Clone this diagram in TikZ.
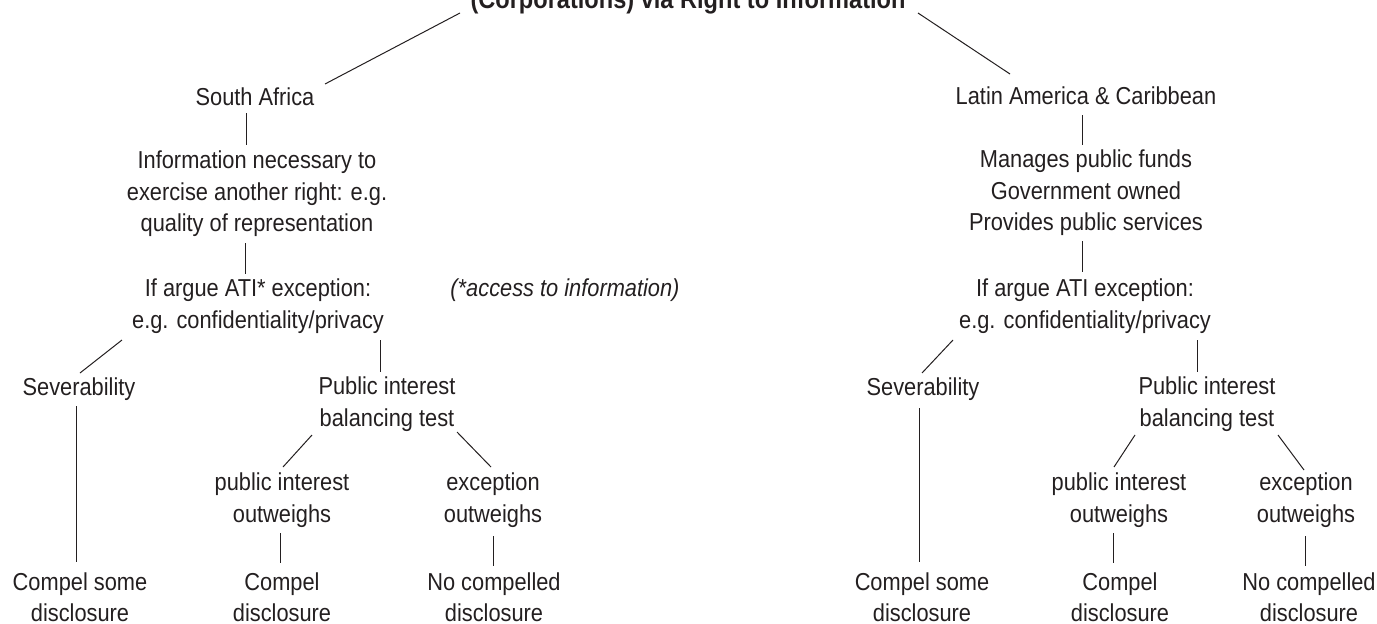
\documentclass[tikz,border=0pt]{standalone}
\usepackage{fontspec}
\setmainfont{Liberation Sans}[FakeStretch=0.89]
\usetikzlibrary{calc}
\definecolor{ink}{HTML}{231F20}
\begin{document}
\begin{tikzpicture}[x=1pt,y=-1pt,
  lbl/.style={inner sep=0pt, align=center, text=ink, font=\fontsize{24.5}{31.5}\selectfont},
  note/.style={lbl, font=\fontsize{24.5}{31.5}\selectfont\itshape},
  ttl/.style={inner sep=0pt, text=ink, font=\fontsize{26.5}{30}\selectfont\bfseries},
  conn/.style={draw=ink, line width=1pt}]
\useasboundingbox (0,0) rectangle (1377,624);
\clip (0,0) rectangle (1377,624);
% title (cut off at top)
\node[ttl, anchor=base] (title) at (688,8) {(Corporations) via Right to Information};
% left tree
\node[lbl] (sa) at (255,97) {South Africa};
\node[lbl] (info) at (257,194) {Information necessary to\\exercise another right: e.g.\\quality of representation};
\node[lbl] (ati) at (258,306) {If argue ATI* exception:\\e.g. confidentiality/privacy};
\node[note] (nt) at (565,290) {(*access to information)};
\node[lbl] (sev) at (79,389) {Severability};
\node[lbl] (pi) at (387,404) {Public interest\\balancing test};
\node[lbl] (pio) at (282,500) {public interest\\outweighs};
\node[lbl] (eo) at (493,500) {exception\\outweighs};
\node[lbl] (cs) at (80,597) {Compel some\\disclosure};
\node[lbl] (cd) at (282,597) {Compel\\disclosure};
\node[lbl] (nc) at (494,597) {No compelled\\disclosure};
% right tree
\node[lbl] (la) at (1086,96) {Latin America \& Caribbean};
\node[lbl] (mg) at (1086,193) {Manages public funds\\Government owned\\Provides public services};
\node[lbl] (ati2) at (1085,306) {If argue ATI exception:\\e.g. confidentiality/privacy};
\node[lbl] (sev2) at (923,389) {Severability};
\node[lbl] (pi2) at (1207,404) {Public interest\\balancing test};
\node[lbl] (pio2) at (1119,500) {public interest\\outweighs};
\node[lbl] (eo2) at (1306,500) {exception\\outweighs};
\node[lbl] (cs2) at (922,597) {Compel some\\disclosure};
\node[lbl] (cd2) at (1120,597) {Compel\\disclosure};
\node[lbl] (nc2) at (1309,597) {No compelled\\disclosure};
% connectors
\draw[conn] ([shift={(-228,5)}]title.base) -- ([shift={(70,-13)}]sa.center);
\draw[conn] ([shift={(230,5)}]title.base) -- ([shift={(-76,-22)}]la.center);
\draw[conn] ([shift={(-9,16)}]sa.center) -- ([shift={(-11,-49)}]info.center);
\draw[conn] ([shift={(-12,49)}]info.center) -- ([shift={(-13,-32)}]ati.center);
\draw[conn] ([shift={(-136,34)}]ati.center) -- ([shift={(1,-16)}]sev.center);
\draw[conn] ([shift={(122,34)}]ati.center) -- ([shift={(-7,-32)}]pi.center);
\draw[conn] ([shift={(-3,17)}]sev.center) -- ([shift={(-4,-35)}]cs.center);
\draw[conn] ([shift={(-75,31)}]pi.center) -- ([shift={(1,-33)}]pio.center);
\draw[conn] ([shift={(70,28)}]pi.center) -- ([shift={(-2,-33)}]eo.center);
\draw[conn] ([shift={(-2,33)}]pio.center) -- ([shift={(-2,-34)}]cd.center);
\draw[conn] ([shift={(0,36)}]eo.center) -- ([shift={(-1,-31)}]nc.center);
\draw[conn] ([shift={(-4,19)}]la.center) -- ([shift={(-4,-48)}]mg.center);
\draw[conn] ([shift={(-4,48)}]mg.center) -- ([shift={(-3,-34)}]ati2.center);
\draw[conn] ([shift={(-132,34)}]ati2.center) -- ([shift={(-1,-16)}]sev2.center);
\draw[conn] ([shift={(112,34)}]ati2.center) -- ([shift={(-10,-32)}]pi2.center);
\draw[conn] ([shift={(-4,19)}]sev2.center) -- ([shift={(-3,-35)}]cs2.center);
\draw[conn] ([shift={(-72,31)}]pi2.center) -- ([shift={(-5,-33)}]pio2.center);
\draw[conn] ([shift={(71,31)}]pi2.center) -- ([shift={(-2,-30)}]eo2.center);
\draw[conn] ([shift={(-6,33)}]pio2.center) -- ([shift={(-7,-34)}]cd2.center);
\draw[conn] ([shift={(-1,36)}]eo2.center) -- ([shift={(-4,-31)}]nc2.center);
\end{tikzpicture}
\end{document}
